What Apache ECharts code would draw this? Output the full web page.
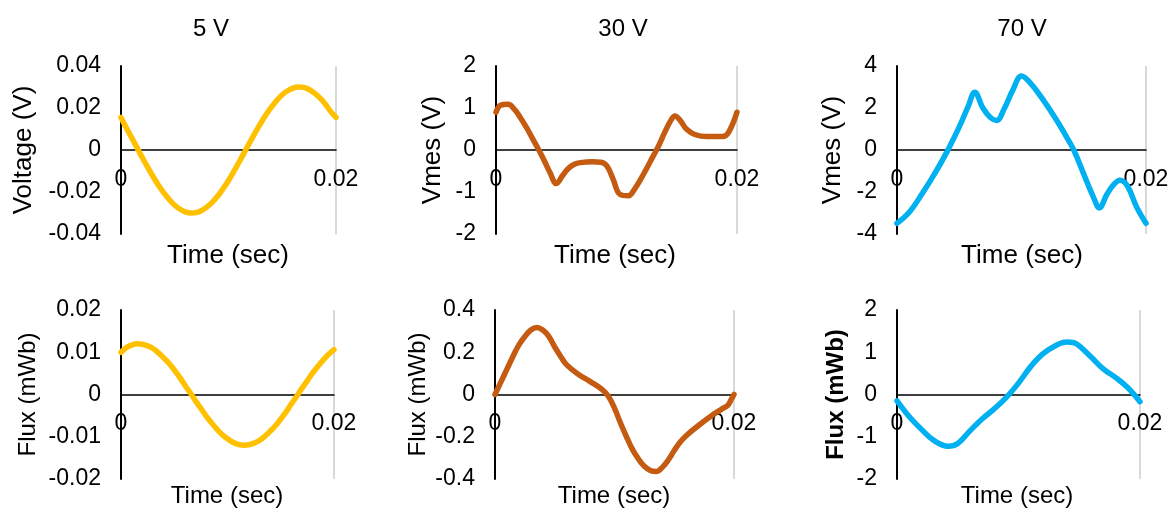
<!DOCTYPE html>
<html>
<head>
<meta charset="utf-8">
<script src="https://cdn.jsdelivr.net/npm/echarts@6/dist/echarts.min.js"></script>
<style>
html,body{margin:0;padding:0;background:#fff;}
#chart{width:1173px;height:509px;}
</style>
</head>
<body>
<div id="chart"></div>
<script>
// ---------- DATA (time in seconds) ----------
var panelTitles = ['5 V', '30 V', '70 V'];
var xAxisTitle = 'Time (sec)';
var yTitlesTop = ['Voltage (V)', 'Vmes (V)', 'Vmes (V)'];
var yTitlesBottom = ['Flux (mWb)', 'Flux (mWb)', 'Flux (mWb)'];

// 5 V - voltage
var t5V = [0,0.0005,0.001,0.0015,0.002,0.0025,0.003,0.0035,0.004,0.0045,0.005,0.0055,0.006,0.0065,0.007,0.0075,0.008,0.0085,0.009,0.0095,0.010,0.0105,0.011,0.0115,0.012,0.0125,0.013,0.0135,0.014,0.0145,0.015,0.0155,0.016,0.0165,0.017,0.0175,0.018,0.0185,0.019,0.0195,0.020];
var v5V = [0.0155,0.0105,0.0058,0.0010,-0.0038,-0.0084,-0.0128,-0.0169,-0.0205,-0.0237,-0.0263,-0.0282,-0.0295,-0.0300,-0.0298,-0.0288,-0.0271,-0.0248,-0.0219,-0.0184,-0.0145,-0.0102,-0.0056,-0.0009,0.0038,0.0084,0.0128,0.0169,0.0205,0.0237,0.0263,0.0282,0.0295,0.0300,0.0298,0.0288,0.0271,0.0248,0.0219,0.0184,0.0155];
// 5 V - flux
var t5F = [0,0.0005,0.001,0.0015,0.002,0.0025,0.003,0.0035,0.004,0.0045,0.005,0.0055,0.006,0.0065,0.007,0.0075,0.008,0.0085,0.009,0.0095,0.010,0.0105,0.011,0.0115,0.012,0.0125,0.013,0.0135,0.014,0.0145,0.015,0.0155,0.016,0.0165,0.017,0.0175,0.018,0.0185,0.019,0.0195,0.020];
var f5F = [0.0100,0.0111,0.0117,0.0120,0.0119,0.0115,0.0109,0.0099,0.0087,0.0074,0.0058,0.0041,0.0022,0.0004,-0.0015,-0.0033,-0.0051,-0.0067,-0.0082,-0.0095,-0.0105,-0.0113,-0.0118,-0.0120,-0.0119,-0.0115,-0.0109,-0.0099,-0.0087,-0.0074,-0.0058,-0.0041,-0.0022,-0.0004,0.0015,0.0033,0.0051,0.0067,0.0082,0.0095,0.0106];

// 30 V - voltage
var t30V = [0,0.0004,0.001,0.0015,0.002,0.0025,0.003,0.0035,0.004,0.0045,0.005,0.0055,0.006,0.0065,0.007,0.008,0.0087,0.0092,0.0097,0.0103,0.011,0.0115,0.012,0.0125,0.013,0.0135,0.014,0.0145,0.01485,0.0153,0.0158,0.0165,0.0175,0.0188,0.0193,0.020];
var v30V = [0.90,1.07,1.09,0.98,0.78,0.55,0.29,0.03,-0.25,-0.55,-0.80,-0.62,-0.44,-0.34,-0.30,-0.28,-0.29,-0.38,-0.68,-1.06,-1.09,-0.93,-0.70,-0.44,-0.17,0.10,0.42,0.70,0.81,0.70,0.50,0.37,0.32,0.32,0.42,0.90];
// 30 V - flux
var t30F = [0,0.0005,0.001,0.0015,0.002,0.0025,0.003,0.0035,0.004,0.0045,0.005,0.0055,0.006,0.007,0.008,0.009,0.0095,0.010,0.0105,0.011,0.0115,0.012,0.0125,0.013,0.0135,0.014,0.0145,0.015,0.0155,0.016,0.017,0.018,0.019,0.0195,0.0198,0.020];
var f30F = [0.00,0.06,0.12,0.18,0.235,0.275,0.305,0.317,0.305,0.275,0.225,0.18,0.14,0.095,0.06,0.022,-0.01,-0.065,-0.135,-0.20,-0.26,-0.305,-0.34,-0.36,-0.365,-0.345,-0.31,-0.265,-0.225,-0.195,-0.148,-0.105,-0.068,-0.05,-0.02,0.00];

// 70 V - voltage
var t70V = [0,0.001,0.002,0.003,0.004,0.005,0.0057,0.00625,0.0069,0.0075,0.008,0.0086,0.0093,0.010,0.0107,0.0117,0.0128,0.0136,0.0142,0.015,0.0158,0.01625,0.01685,0.0174,0.0179,0.0185,0.01925,0.020];
var v70V = [-3.49,-2.95,-2.10,-1.15,-0.10,1.10,2.05,2.75,2.0,1.55,1.41,1.95,2.85,3.52,3.2,2.42,1.44,0.64,0,-1.15,-2.28,-2.75,-2.12,-1.65,-1.44,-1.7,-2.72,-3.49];
// 70 V - flux
var t70F = [0,0.001,0.002,0.003,0.0042,0.005,0.006,0.007,0.008,0.009,0.010,0.011,0.012,0.013,0.014,0.0145,0.015,0.016,0.017,0.018,0.019,0.020];
var f70F = [-0.15,-0.52,-0.82,-1.08,-1.225,-1.16,-0.86,-0.58,-0.34,-0.07,0.27,0.66,0.96,1.15,1.24,1.23,1.15,0.88,0.60,0.40,0.16,-0.17];

// y-axis ranges
var yMin = [-0.04, -2, -4, -0.02, -0.4, -2];
var yMax = [0.04, 2, 4, 0.02, 0.4, 2];
var yStep = [0.02, 1, 2, 0.01, 0.2, 1];
var xMin = 0, xMax = 0.02, xStep = 0.02;

var colors = ['#FFC000', '#C55A11', '#00B0F0'];

// ---------- LAYOUT ----------
var FONT = '"Liberation Sans", Arial, sans-serif';
var grids = [
  {left:121, top:66, width:215, height:168},
  {left:496, top:66, width:241, height:168},
  {left:897, top:66, width:249, height:168},
  {left:121, top:310, width:213, height:169},
  {left:495, top:310, width:239, height:169},
  {left:897, top:310, width:243, height:169}
];
var nameGaps = [84, 50, 51, 81, 65, 49];
var nameSizes = [26, 26, 26, 24, 24, 24];
var xLabelMargins = [-66, -66, -66, -67, -67, -67];

function pairs(t, v){ return t.map(function(x,i){ return [x, v[i]]; }); }
var seriesData = [pairs(t5V,v5V), pairs(t30V,v30V), pairs(t70V,v70V), pairs(t5F,f5F), pairs(t30F,f30F), pairs(t70F,f70F)];
var yNames = yTitlesTop.concat(yTitlesBottom);

var xAxes = [], yAxes = [], series = [];
for (var i = 0; i < 6; i++) {
  xAxes.push({
    type:'value', gridIndex:i, min:xMin, max:xMax, interval:xStep,
    axisLine:{show:true, onZero:true, lineStyle:{color:'#000', width:1.5}},
    axisTick:{show:false},
    axisLabel:{color:'#000', fontSize:23, fontFamily:FONT, margin:xLabelMargins[i]},
    splitLine:{show:true, lineStyle:{color:'#D9D9D9', width:2}}
  });
  yAxes.push({
    type:'value', gridIndex:i, min:yMin[i], max:yMax[i], interval:yStep[i],
    axisLine:{show:true, onZero:false, lineStyle:{color:'#000', width:2}},
    axisTick:{show:false},
    axisLabel:{color:'#000', fontSize:23, fontFamily:FONT, margin:20},
    splitLine:{show:false},
    name: yNames[i], nameLocation:'middle', nameGap:nameGaps[i],
    nameTextStyle:{color:'#000', fontSize:nameSizes[i], fontFamily:FONT, fontWeight: i === 5 ? 'bold' : 'normal'}
  });
  series.push({
    type:'line', xAxisIndex:i, yAxisIndex:i, data:seriesData[i],
    showSymbol:false, symbol:'none', smooth:0.4,
    lineStyle:{color:colors[i % 3], width:5.5, cap:'round', join:'round'},
    animation:false
  });
}

var titleX = [211, 623, 1022];
var timeXTop = [228, 615, 1022];
var timeXBottom = [227, 614, 1017];
var graphics = [];
for (var c = 0; c < 3; c++) {
  graphics.push({type:'text', x:titleX[c], y:29, style:{text:panelTitles[c], fill:'#000', font:'24px ' + FONT, textAlign:'center', textVerticalAlign:'middle'}});
  graphics.push({type:'text', x:timeXTop[c], y:256, style:{text:xAxisTitle, fill:'#000', font:'26px ' + FONT, textAlign:'center', textVerticalAlign:'middle'}});
  graphics.push({type:'text', x:timeXBottom[c], y:496, style:{text:xAxisTitle, fill:'#000', font:'24px ' + FONT, textAlign:'center', textVerticalAlign:'middle'}});
}

var chart = echarts.init(document.getElementById('chart'), null, {renderer:'canvas'});
chart.setOption({
  backgroundColor:'#fff',
  animation:false,
  grid: grids,
  xAxis: xAxes,
  yAxis: yAxes,
  series: series,
  graphic: graphics
});
</script>
</body>
</html>
